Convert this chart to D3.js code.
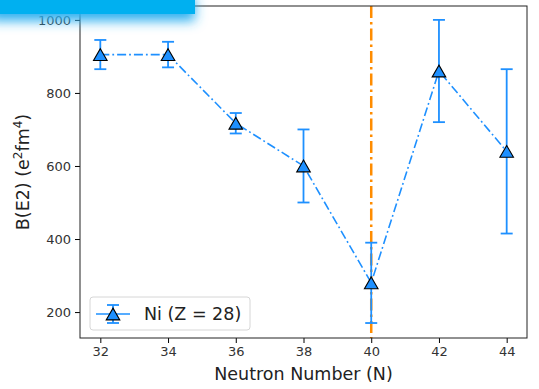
<!DOCTYPE html>
<html>
<head>
<meta charset="utf-8">
<script src="https://cdn.jsdelivr.net/npm/d3@7"></script>
<style>
  body { margin: 0; background: #fff; }
  svg { display: block; font-family: "DejaVu Sans", sans-serif; }
</style>
</head>
<body>
<div id="chart"></div>
<script>
const neutrons = [32, 34, 36, 38, 40, 42, 44];
const be2 = [905, 905, 717, 600, 280, 860, 640];
const be2Err = [40, 35, 28, 100, 110, 140, 225];
const xTicks = [32, 34, 36, 38, 40, 42, 44];
const yTicks = [200, 400, 600, 800, 1000];
const closedShell = 40;

const W = 539, H = 389;
const margin = { top: 6, right: 12, bottom: 51, left: 80 };
const width = W - margin.left - margin.right;
const height = H - margin.top - margin.bottom;

const svg = d3.select('#chart').append('svg')
  .attr('width', W)
  .attr('height', H);

const defs = svg.append('defs');
const shadow = defs.append('filter').attr('id', 'shadow')
  .attr('x', '-20%').attr('y', '-60%').attr('width', '140%').attr('height', '350%');
shadow.append('feDropShadow')
  .attr('dx', 0).attr('dy', 7).attr('stdDeviation', 6)
  .attr('flood-color', '#2fb0f0').attr('flood-opacity', 1);

const g = svg.append('g')
  .attr('transform', `translate(${margin.left},${margin.top})`);

const x = d3.scaleLinear().domain([31.4, 44.6]).range([0, width]);
const y = d3.scaleLinear().domain([129, 1038]).range([height, 0]);

// X axis
const xAxis = g.append('g')
  .attr('transform', `translate(0,${height})`)
  .call(d3.axisBottom(x).tickValues(xTicks).tickSize(5).tickPadding(4).tickFormat(d3.format('d')));
xAxis.select('.domain').remove();
xAxis.attr('font-size', 13).attr('font-family', null);
xAxis.selectAll('text').attr('fill', '#333');

// Y axis
const yAxis = g.append('g')
  .call(d3.axisLeft(y).tickValues(yTicks).tickSize(5).tickPadding(4).tickFormat(d3.format('d')));
yAxis.select('.domain').remove();
yAxis.attr('font-size', 13).attr('font-family', null);
yAxis.selectAll('text').attr('fill', '#333');

// Vertical line at N = 40
g.append('line')
  .attr('x1', x(closedShell)).attr('x2', x(closedShell))
  .attr('y1', 0).attr('y2', height)
  .attr('stroke', '#ff8c00')
  .attr('stroke-width', 2.5)
  .attr('stroke-dasharray', '12,4,2.5,4');

const blue = '#1e90ff';
const pts = neutrons.map((n, i) => ({ n, v: be2[i], e: be2Err[i] }));

// Error bars
const eb = g.append('g').selectAll('g').data(pts).enter().append('g')
  .attr('stroke', blue).attr('stroke-width', 1.8);
eb.append('line')
  .attr('x1', d => x(d.n)).attr('x2', d => x(d.n))
  .attr('y1', d => y(d.v - d.e)).attr('y2', d => y(d.v + d.e));
eb.append('line')
  .attr('x1', d => x(d.n) - 6).attr('x2', d => x(d.n) + 6)
  .attr('y1', d => y(d.v - d.e)).attr('y2', d => y(d.v - d.e));
eb.append('line')
  .attr('x1', d => x(d.n) - 6).attr('x2', d => x(d.n) + 6)
  .attr('y1', d => y(d.v + d.e)).attr('y2', d => y(d.v + d.e));

// Connecting line
g.append('path')
  .datum(pts)
  .attr('fill', 'none')
  .attr('stroke', blue)
  .attr('stroke-width', 1.6)
  .attr('stroke-dasharray', '9,3,1.8,3')
  .attr('d', d3.line().x(d => x(d.n)).y(d => y(d.v)));

// Markers (bbox centred on the point, like matplotlib '^')
const triSize = 80;
const tri = d3.symbol().type(d3.symbolTriangle).size(triSize);
const triShift = Math.sqrt(triSize / (3 * Math.sqrt(3))) * 0.5;
g.append('g').selectAll('path').data(pts).enter().append('path')
  .attr('d', tri)
  .attr('transform', d => `translate(${x(d.n)},${y(d.v) + triShift})`)
  .attr('fill', blue)
  .attr('stroke', '#000')
  .attr('stroke-width', 1.1);

// Frame
g.append('rect')
  .attr('width', width).attr('height', height)
  .attr('fill', 'none').attr('stroke', '#222').attr('stroke-width', 1);

// Legend
const leg = g.append('g').attr('transform', `translate(10,${height - 41})`);
leg.append('rect')
  .attr('width', 160).attr('height', 33).attr('rx', 3)
  .attr('fill', 'rgba(255,255,255,0.8)')
  .attr('stroke', '#d6d6d6');
const hx = 23, hy = 17;
leg.append('line')
  .attr('x1', hx - 17).attr('x2', hx + 17).attr('y1', hy).attr('y2', hy)
  .attr('stroke', blue).attr('stroke-width', 1.6);
leg.append('line')
  .attr('x1', hx).attr('x2', hx).attr('y1', hy - 9).attr('y2', hy + 9)
  .attr('stroke', blue).attr('stroke-width', 1.8);
[hy - 9, hy + 9].forEach(cy => {
  leg.append('line')
    .attr('x1', hx - 6).attr('x2', hx + 6).attr('y1', cy).attr('y2', cy)
    .attr('stroke', blue).attr('stroke-width', 1.8);
});
leg.append('path')
  .attr('d', tri)
  .attr('transform', `translate(${hx},${hy + triShift})`)
  .attr('fill', blue).attr('stroke', '#000').attr('stroke-width', 1.1);
leg.append('text')
  .attr('x', 54).attr('y', hy + 6)
  .style('font-size', '17.5px').style('fill', '#222')
  .text('Ni (Z = 28)');

// Axis labels
svg.append('text')
  .attr('x', margin.left + width / 2).attr('y', 380)
  .attr('text-anchor', 'middle')
  .style('font-size', '17.5px').style('fill', '#222')
  .text('Neutron Number (N)');

const yl = svg.append('text')
  .attr('transform', `translate(29,${margin.top + height / 2}) rotate(-90)`)
  .attr('text-anchor', 'middle')
  .style('font-size', '17.5px').style('fill', '#222');
yl.append('tspan').text('B(E2) (e');
yl.append('tspan').attr('dy', -7).style('font-size', '12px').text('2');
yl.append('tspan').attr('dy', 7).text('fm');
yl.append('tspan').attr('dy', -7).style('font-size', '12px').text('4');
yl.append('tspan').attr('dy', 7).text(')');

// Banner overlay at top-left
svg.append('rect')
  .attr('x', -10).attr('y', -10)
  .attr('width', 205).attr('height', 24)
  .attr('fill', '#00b0f0')
  .attr('filter', 'url(#shadow)');
</script>
</body>
</html>
